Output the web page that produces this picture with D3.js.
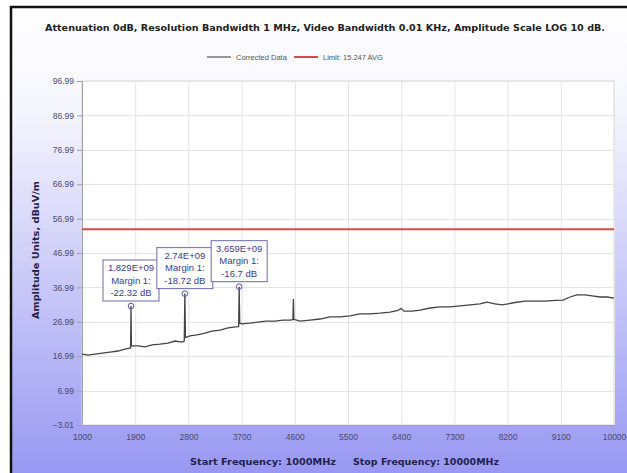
<!DOCTYPE html>
<html>
<head>
<meta charset="utf-8">
<script src="https://cdn.jsdelivr.net/npm/d3@7"></script>
<style>
  body { margin: 0; background: #fff; }
  svg { display: block; }
</style>
</head>
<body>
<svg width="627" height="473"></svg>
<script>
// trace (MHz, dBuV/m)
const freqs = [1000, 1102, 1220, 1338, 1474, 1609, 1744, 1822, 1829, 1836, 1947, 2066, 2184, 2320, 2455, 2573, 2692, 2730, 2740, 2750,
  2827, 2945, 3081, 3199, 3335, 3470, 3605, 3650, 3659, 3668, 3707, 3842, 3977, 4113, 4265, 4400, 4519, 4568, 4576, 4584,
  4688, 4857, 5026, 5196, 5365, 5534, 5703, 5872, 6041, 6211, 6346, 6397, 6447, 6583, 6718, 6887, 7056, 7226, 7395, 7564,
  7733, 7852, 7987, 8105, 8207, 8325, 8494, 8664, 8833, 9002, 9137, 9256, 9374, 9510, 9628, 9763, 9882, 10000];
const amps = [17.6, 17.3, 17.6, 17.9, 18.2, 18.5, 19.1, 19.4, 31.58, 20.0, 20.0, 19.7, 20.3, 20.5, 20.8, 21.4, 21.1, 21.4, 35.18, 22.4,
  22.9, 23.2, 23.7, 24.3, 24.6, 25.2, 25.5, 25.6, 37.2, 26.6, 26.4, 26.6, 26.9, 27.2, 27.2, 27.5, 27.5, 27.6, 33.6, 27.7,
  27.2, 27.5, 27.8, 28.4, 28.4, 28.7, 29.3, 29.3, 29.5, 29.8, 30.3, 30.9, 30.1, 30.1, 30.4, 31.0, 31.3, 31.3, 31.6, 31.9,
  32.2, 32.7, 32.2, 31.9, 32.2, 32.6, 33.0, 33.0, 33.0, 33.2, 33.3, 34.2, 34.8, 34.8, 34.5, 34.2, 34.2, 33.9];

const limitValue = 53.9;
const markerFreqs = [1829, 2740, 3659];
const markerNames = ['1.829E+09', '2.74E+09', '3.659E+09'];
const markerMargins = [-22.32, -18.72, -16.7];

const xTicks = [1000, 1900, 2800, 3700, 4600, 5500, 6400, 7300, 8200, 9100, 10000];
const yTicks = [-3.01, 6.99, 16.99, 26.99, 36.99, 46.99, 56.99, 66.99, 76.99, 86.99, 96.99];
const legendLabels = ['Corrected Data', 'Limit: 15.247 AVG'];

const svg = d3.select('svg');
const plotL = 82, plotR = 614, plotT = 81, plotB = 425;

const x = d3.scaleLinear().domain([1000, 10000]).range([plotL, plotR]);
const y = d3.scaleLinear().domain([-3.01, 96.99]).range([plotB, plotT]);

// background gradient
const defs = svg.append('defs');
const grad = defs.append('linearGradient')
  .attr('id', 'bg').attr('x1', 0).attr('y1', 0).attr('x2', 0).attr('y2', 1);
grad.append('stop').attr('offset', '0%').attr('stop-color', '#ffffff');
grad.append('stop').attr('offset', '22%').attr('stop-color', '#f5f5fe');
grad.append('stop').attr('offset', '100%').attr('stop-color', '#9494f2');

svg.append('rect')
  .attr('x', 11).attr('y', 7).attr('width', 630).attr('height', 480)
  .attr('fill', 'url(#bg)')
  .attr('stroke', '#111').attr('stroke-width', 2.5);

// plot area
svg.append('rect')
  .attr('x', plotL).attr('y', plotT)
  .attr('width', plotR - plotL).attr('height', plotB - plotT)
  .attr('fill', '#fff').attr('stroke', '#d8d8d8');

const grid = svg.append('g').attr('stroke', '#e4e4e4').attr('stroke-width', 1);
grid.selectAll('line.v').data(xTicks).join('line')
  .attr('x1', d => x(d) + 0.5).attr('x2', d => x(d) + 0.5)
  .attr('y1', plotT).attr('y2', plotB);
grid.selectAll('line.h').data(yTicks).join('line')
  .attr('y1', d => Math.round(y(d)) + 0.5).attr('y2', d => Math.round(y(d)) + 0.5)
  .attr('x1', plotL).attr('x2', plotR);

// axes
const yAxis = d3.axisLeft(y).tickValues(yTicks).tickFormat(d3.format('.2f')).tickSize(5).tickPadding(3);
const gy = svg.append('g').attr('transform', `translate(${plotL},0)`).call(yAxis);
gy.select('.domain').attr('stroke', '#a0a0a0');
gy.selectAll('.tick line').attr('stroke', '#a0a0a0');
gy.selectAll('.tick text')
  .attr('fill', '#4a4a6a')
  .style('font-family', '"Liberation Sans", Arial, sans-serif')
  .style('font-size', '8.5px');

const xAxis = d3.axisBottom(x).tickValues(xTicks).tickFormat(d3.format('d')).tickSize(0).tickPadding(9);
const gx = svg.append('g').attr('transform', `translate(0,${plotB})`).call(xAxis);
gx.select('.domain').attr('stroke', '#a0a0a0');
gx.selectAll('.tick text')
  .attr('fill', '#4a4a6a')
  .style('font-family', '"Liberation Sans", Arial, sans-serif')
  .style('font-size', '8.5px');

// limit line
svg.append('line')
  .attr('x1', plotL).attr('x2', plotR)
  .attr('y1', y(limitValue)).attr('y2', y(limitValue))
  .attr('stroke', '#d84a4a').attr('stroke-width', 2.2);

// trace
const trace = freqs.map((f, i) => [f, amps[i]]);
svg.append('path')
  .datum(trace)
  .attr('fill', 'none')
  .attr('stroke', '#444')
  .attr('stroke-width', 1.3)
  .attr('d', d3.line().x(d => x(d[0])).y(d => y(d[1])));

// markers
const markers = svg.append('g');
markerFreqs.forEach((f, i) => {
  const px = x(f), py = y(limitValue + markerMargins[i]);
  markers.append('circle')
    .attr('cx', px).attr('cy', py).attr('r', 2.8)
    .attr('fill', 'none').attr('stroke', '#55559a').attr('stroke-width', 1);
  const bw = 56, bh = 41;
  const bx = px - bw / 2, by = py - 5 - bh;
  markers.append('rect')
    .attr('x', bx).attr('y', by).attr('width', bw).attr('height', bh)
    .attr('fill', '#fff').attr('stroke', '#6a6aa8').attr('stroke-width', 1);
  const lines = [markerNames[i], 'Margin 1:', `${markerMargins[i]} dB`];
  markers.selectAll(null).data(lines).join('text')
    .attr('x', px).attr('y', (d, j) => by + 11 + j * 12.5)
    .attr('text-anchor', 'middle')
    .attr('fill', '#3a3a8a')
    .style('font-family', '"Liberation Sans", Arial, sans-serif')
    .style('font-size', '9.5px')
    .text(d => d);
});

// title
svg.append('text')
  .attr('x', 325).attr('y', 31)
  .attr('text-anchor', 'middle')
  .attr('textLength', 560).attr('lengthAdjust', 'spacingAndGlyphs')
  .attr('fill', '#222')
  .style('font-family', '"DejaVu Sans", sans-serif')
  .style('font-weight', 'bold')
  .style('font-size', '8.5px')
  .text('Attenuation 0dB, Resolution Bandwidth 1 MHz, Video Bandwidth 0.01 KHz, Amplitude Scale LOG 10 dB.');

// legend
const legend = svg.append('g').style('font-family', '"Liberation Sans", Arial, sans-serif').style('font-size', '7.5px');
const legendColors = ['#555', '#d84a4a'];
const legendX = [207, 294];
legendLabels.forEach((t, i) => {
  legend.append('line')
    .attr('x1', legendX[i]).attr('x2', legendX[i] + 24)
    .attr('y1', 57).attr('y2', 57)
    .attr('stroke', legendColors[i]).attr('stroke-width', i ? 2 : 1.2);
  legend.append('text')
    .attr('x', legendX[i] + 29).attr('y', 60)
    .attr('fill', '#555')
    .text(t);
});

// axis titles
svg.append('text')
  .attr('transform', `translate(39,250) rotate(-90)`)
  .attr('text-anchor', 'middle')
  .attr('textLength', 138).attr('lengthAdjust', 'spacingAndGlyphs')
  .attr('fill', '#22224a')
  .style('font-family', '"DejaVu Sans", sans-serif')
  .style('font-weight', 'bold')
  .style('font-size', '9px')
  .text('Amplitude Units, dBuV/m');

const bottomLabels = ['Start Frequency: 1000MHz', 'Stop Frequency: 10000MHz'];
const bottomX = [190, 353];
bottomLabels.forEach((t, i) => {
  svg.append('text')
    .attr('x', bottomX[i]).attr('y', 465)
    .attr('textLength', 146).attr('lengthAdjust', 'spacingAndGlyphs')
    .attr('fill', '#22224a')
    .style('font-family', '"DejaVu Sans", sans-serif')
    .style('font-weight', 'bold')
    .style('font-size', '9px')
    .text(t);
});
</script>
</body>
</html>
